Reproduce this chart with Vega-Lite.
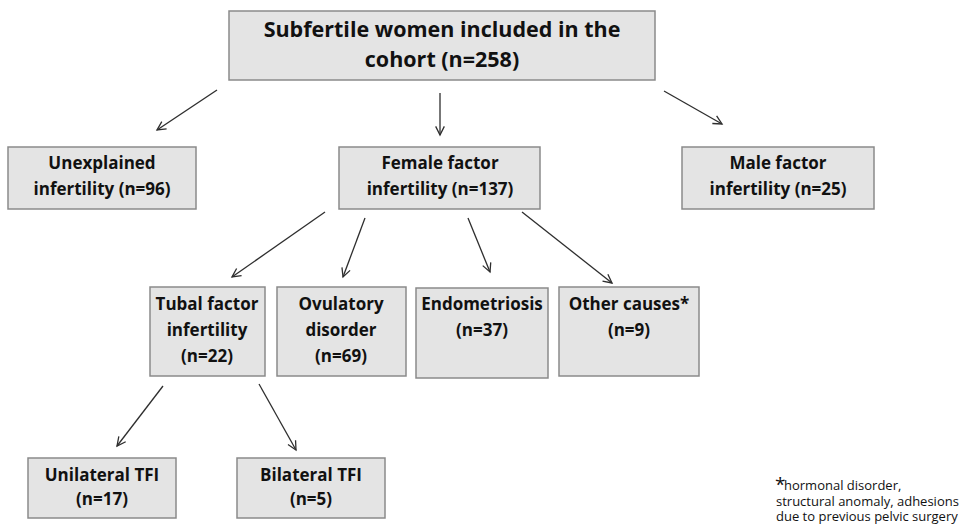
{
  "$schema": "https://vega.github.io/schema/vega-lite/v6.json",
  "width": 961,
  "height": 526,
  "padding": 0,
  "autosize": {"type": "none"},
  "background": "white",
  "config": {"view": {"stroke": null}},
  "datasets": {
    "boxes": [
      {"id": "cohort", "x1": 229, "x2": 655, "y1": 11, "y2": 80},
      {"id": "unexplained", "x1": 8, "x2": 196, "y1": 147, "y2": 209},
      {"id": "female", "x1": 339, "x2": 540, "y1": 147, "y2": 209},
      {"id": "male", "x1": 682, "x2": 874, "y1": 147, "y2": 209},
      {"id": "tubal", "x1": 150, "x2": 265, "y1": 287, "y2": 376},
      {"id": "ovulatory", "x1": 277, "x2": 406, "y1": 287, "y2": 376},
      {"id": "endometriosis", "x1": 416, "x2": 548, "y1": 288, "y2": 378},
      {"id": "other", "x1": 559, "x2": 699, "y1": 287, "y2": 376},
      {"id": "unilateral", "x1": 28, "x2": 176, "y1": 458, "y2": 518},
      {"id": "bilateral", "x1": 237, "x2": 385, "y1": 458, "y2": 518}
    ],
    "arrows": [
      {"x1": 217, "y1": 90, "x2": 157, "y2": 130},
      {"x1": 440, "y1": 93, "x2": 440, "y2": 135},
      {"x1": 664, "y1": 91, "x2": 722, "y2": 124},
      {"x1": 325, "y1": 212, "x2": 232, "y2": 277},
      {"x1": 365, "y1": 218, "x2": 343, "y2": 277},
      {"x1": 468, "y1": 218, "x2": 490, "y2": 272},
      {"x1": 522, "y1": 212, "x2": 612, "y2": 283},
      {"x1": 163, "y1": 386, "x2": 117, "y2": 446},
      {"x1": 259, "y1": 384, "x2": 296, "y2": 450}
    ],
    "titles": [
      {"x": 442, "y": 31, "t": "Subfertile women included in the"},
      {"x": 442, "y": 61, "t": "cohort (n=258)"}
    ],
    "labels": [
      {"x": 102, "y": 164, "t": "Unexplained"},
      {"x": 102, "y": 190, "t": "infertility  (n=96)"},
      {"x": 440, "y": 164, "t": "Female factor"},
      {"x": 440, "y": 190, "t": "infertility  (n=137)"},
      {"x": 778, "y": 164, "t": "Male factor"},
      {"x": 778, "y": 190, "t": "infertility (n=25)"},
      {"x": 207, "y": 305, "t": "Tubal factor"},
      {"x": 207, "y": 331, "t": "infertility"},
      {"x": 207, "y": 357, "t": "(n=22)"},
      {"x": 341, "y": 305, "t": "Ovulatory"},
      {"x": 341, "y": 331, "t": "disorder"},
      {"x": 341, "y": 357, "t": "(n=69)"},
      {"x": 482, "y": 305, "t": "Endometriosis"},
      {"x": 482, "y": 331, "t": "(n=37)"},
      {"x": 629, "y": 305, "t": "Other causes*"},
      {"x": 629, "y": 331, "t": "(n=9)"},
      {"x": 102, "y": 476, "t": "Unilateral TFI"},
      {"x": 102, "y": 500, "t": "(n=17)"},
      {"x": 311, "y": 476, "t": "Bilateral TFI"},
      {"x": 311, "y": 500, "t": "(n=5)"}
    ],
    "notes": [
      {"x": 784, "y": 486, "t": "hormonal disorder,"},
      {"x": 776, "y": 502, "t": "structural anomaly, adhesions"},
      {"x": 776, "y": 517, "t": "due to previous pelvic surgery"}
    ],
    "star": [
      {"x": 775, "y": 485, "t": "*"}
    ]
  },
  "layer": [
    {
      "data": {"name": "boxes"},
      "mark": {"type": "rect", "fill": "#e4e4e4", "stroke": "#8a8a8a", "strokeWidth": 1.5},
      "encoding": {
        "x": {"field": "x1", "type": "quantitative", "scale": {"domain": [0, 961], "nice": false, "zero": false}, "axis": null},
        "x2": {"field": "x2"},
        "y": {"field": "y1", "type": "quantitative", "scale": {"domain": [0, 526], "nice": false, "zero": false, "reverse": true}, "axis": null},
        "y2": {"field": "y2"}
      }
    },
    {
      "data": {"name": "arrows"},
      "mark": {"type": "rule", "stroke": "#2e2e2e", "strokeWidth": 1.3},
      "encoding": {
        "x": {"field": "x1", "type": "quantitative"},
        "x2": {"field": "x2"},
        "y": {"field": "y1", "type": "quantitative"},
        "y2": {"field": "y2"}
      }
    },
    {
      "data": {"name": "arrows"},
      "transform": [
        {"calculate": "atan2(-(datum.x2 - datum.x1), datum.y2 - datum.y1) * 180 / PI", "as": "ang"}
      ],
      "mark": {"type": "point", "shape": "M-0.5,-1L0,0L0.5,-1", "filled": false, "stroke": "#2e2e2e", "strokeWidth": 1.3, "size": 300, "opacity": 1},
      "encoding": {
        "x": {"field": "x2", "type": "quantitative"},
        "y": {"field": "y2", "type": "quantitative"},
        "angle": {"field": "ang", "type": "quantitative", "scale": null}
      }
    },
    {
      "data": {"name": "titles"},
      "mark": {"type": "text", "font": "Open Sans", "fontWeight": "bold", "fontSize": 21.5, "fill": "#111111", "align": "center", "baseline": "middle"},
      "encoding": {
        "x": {"field": "x", "type": "quantitative"},
        "y": {"field": "y", "type": "quantitative"},
        "text": {"field": "t"}
      }
    },
    {
      "data": {"name": "labels"},
      "mark": {"type": "text", "font": "Open Sans", "fontWeight": "bold", "fontSize": 17, "fill": "#111111", "align": "center", "baseline": "middle"},
      "encoding": {
        "x": {"field": "x", "type": "quantitative"},
        "y": {"field": "y", "type": "quantitative"},
        "text": {"field": "t"}
      }
    },
    {
      "data": {"name": "notes"},
      "mark": {"type": "text", "font": "Open Sans", "fontSize": 13, "fill": "#111111", "align": "left", "baseline": "middle"},
      "encoding": {
        "x": {"field": "x", "type": "quantitative"},
        "y": {"field": "y", "type": "quantitative"},
        "text": {"field": "t"}
      }
    },
    {
      "data": {"name": "star"},
      "mark": {"type": "text", "font": "Open Sans", "fontSize": 19, "fill": "#111111", "align": "left", "baseline": "middle"},
      "encoding": {
        "x": {"field": "x", "type": "quantitative"},
        "y": {"field": "y", "type": "quantitative"},
        "text": {"field": "t"}
      }
    }
  ]
}
